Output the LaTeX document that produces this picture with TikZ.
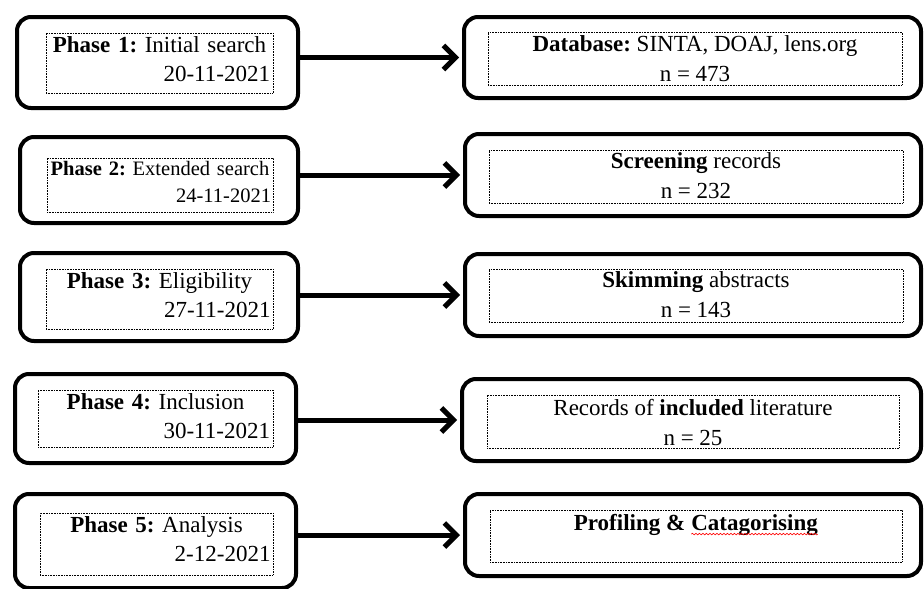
\documentclass[tikz,border=0pt]{standalone}
\usepackage{fontspec}
\setmainfont{Liberation Serif}
\usepackage{tikz}
\usetikzlibrary{positioning, arrows.meta, decorations.pathmorphing}

% red wavy underline under a word
\newcommand{\squiggle}[1]{\tikz[baseline=(w.base)]{\node[inner sep=0pt, outer sep=0pt, draw=none] (w) {#1};
    \draw[red, solid, line width=0.6pt, decorate, decoration={snake, amplitude=0.8pt, segment length=3.5pt}]
      ([yshift=-4pt]w.base west) -- ([yshift=-4pt]w.base east);}}

\begin{document}
\begin{tikzpicture}[x=1pt, y=-1pt,
        outerbox/.style={draw, line width=4pt, rounded corners=14pt, inner sep=0pt},
        dotbox/.style={draw, densely dotted, line width=0.6pt, inner sep=0pt},
        txt/.style={inner sep=0pt, anchor=north, font=\fontsize{23}{29}\selectfont\frenchspacing, align=center},
        small/.style={font=\fontsize{20.5}{27}\selectfont\frenchspacing},
        wide/.style={font=\fontsize{23}{30}\selectfont\frenchspacing},
        flow/.style={line width=5pt, shorten >=3pt, -{Straight Barb[length=12pt, width=24pt]}}]
            \useasboundingbox (0,0) rectangle (924,589);
            % phases
            \node[outerbox, minimum width=281pt, minimum height=91pt] (p1) at (157.5,62.5) {};
            \node[outerbox, minimum width=278pt, minimum height=86pt] (p2) at (159,180) {};
            \node[outerbox, minimum width=278pt, minimum height=88pt] (p3) at (159,297) {};
            \node[outerbox, minimum width=281pt, minimum height=89pt] (p4) at (155.5,418.5) {};
            \node[outerbox, minimum width=281pt, minimum height=94pt] (p5) at (155.5,541) {};
            \node[dotbox, minimum width=227pt, minimum height=60pt] (pd1) at (159.5,63) {};
            \node[dotbox, minimum width=226pt, minimum height=54pt] (pd2) at (160,185) {};
            \node[dotbox, minimum width=227pt, minimum height=60pt] (pd3) at (159.5,299) {};
            \node[dotbox, minimum width=235pt, minimum height=57pt] (pd4) at (155.5,418.5) {};
            \node[dotbox, minimum width=233pt, minimum height=62pt] (pd5) at (156.5,544) {};
            \node[txt, text width=221pt] (pt1) at ([yshift=-4pt]pd1.north) {\textbf{Phase 1:} Initial search\\ \hfill 20-11-2021};
            \node[txt, small, text width=222pt] (pt2) at ([yshift=-3pt]pd2.north) {\mbox{\textbf{Phase 2:} Extended search}\\ \hfill 24-11-2021};
            \node[txt, text width=222pt] (pt3) at ([yshift=-4pt]pd3.north) {\textbf{Phase 3:} Eligibility\\ \hfill 27-11-2021};
            \node[txt, text width=229pt] (pt4) at ([yshift=-4pt]pd4.north) {\textbf{Phase 4:} Inclusion\\ \hfill 30-11-2021};
            \node[txt, text width=228pt] (pt5) at ([yshift=-4pt]pd5.north) {\textbf{Phase 5:} Analysis\\ \hfill 2-12-2021};
            % results
            \node[outerbox, minimum width=457pt, minimum height=81pt] (r1) at (692.5,57.5) {};
            \node[outerbox, minimum width=456pt, minimum height=82pt] (r2) at (693,175) {};
            \node[outerbox, minimum width=456pt, minimum height=82pt] (r3) at (693,295) {};
            \node[outerbox, minimum width=459pt, minimum height=82pt] (r4) at (691.5,420) {};
            \node[outerbox, minimum width=456pt, minimum height=82pt] (r5) at (693,535) {};
            \node[dotbox, minimum width=414pt, minimum height=53pt] (rd1) at (695,58.5) {};
            \node[dotbox, minimum width=414pt, minimum height=53pt] (rd2) at (696,176.5) {};
            \node[dotbox, minimum width=414pt, minimum height=53pt] (rd3) at (696,295.5) {};
            \node[dotbox, minimum width=412pt, minimum height=53pt] (rd4) at (693,421.5) {};
            \node[dotbox, minimum width=412pt, minimum height=52pt] (rd5) at (696,536) {};
            \node[txt, wide] (rt1) at ([yshift=-4pt]rd1.north) {\textbf{Database:} SINTA, DOAJ, lens.org\\ n = 473};
            \node[txt, wide] (rt2) at ([yshift=-3pt]rd2.north) {\textbf{Screening} records\\ n = 232};
            \node[txt, wide] (rt3) at ([yshift=-3pt]rd3.north) {\textbf{Skimming} abstracts\\ n = 143};
            \node[txt, wide] (rt4) at ([yshift=-4pt]rd4.north) {Records of \textbf{included} literature\\ n = 25};
            \node[txt, wide] (rt5) at ([yshift=-4pt]rd5.north) {\textbf{Profiling \& \squiggle{Catagorising}}};
            \foreach \i in {1,...,5} \draw[flow] (p\i.east |- r\i.west) -- (r\i.west);
        \end{tikzpicture}
\end{document}
